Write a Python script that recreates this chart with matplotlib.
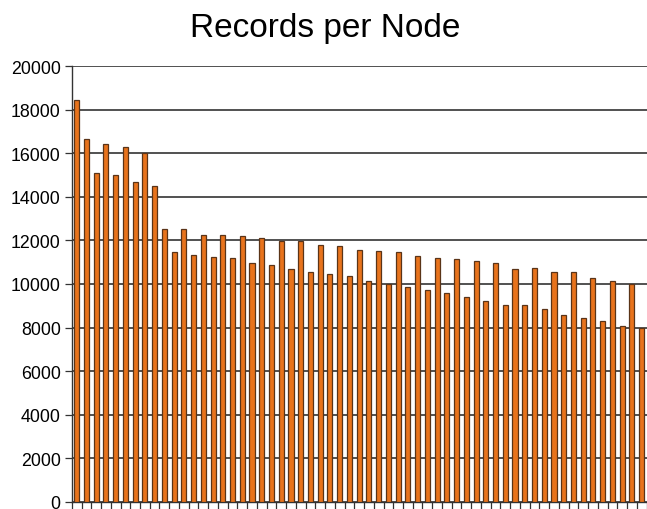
import matplotlib
matplotlib.use("Agg")
import matplotlib.pyplot as plt
import numpy as np

title = "Records per Node"
values = [18450, 16645, 15100, 16445, 15000, 16290, 14690, 16000, 14490,
          12510, 11490, 12510, 11335, 12250, 11230, 12250, 11170, 12205,
          10985, 12100, 10880, 11980, 10665, 11960, 10560, 11795, 10450,
          11730, 10345, 11580, 10145, 11530, 9980, 11475, 9870, 11270,
          9735, 11210, 9565, 11165, 9410, 11060, 9210, 10970, 9045,
          10695, 9045, 10755, 8830, 10540, 8570, 10540, 8420, 10285,
          8315, 10115, 8070, 9990, 7980]
yticks = [0, 2000, 4000, 6000, 8000, 10000, 12000, 14000, 16000, 18000, 20000]

plt.rcParams['font.family'] = ['Liberation Sans', 'DejaVu Sans']

fig = plt.figure(figsize=(6.47, 5.10), dpi=100)
ax = fig.add_axes([0.111, 0.0138, 0.889, 0.8548])

x = np.arange(len(values))
ax.bar(x, values, width=0.52, color='#E8731C', edgecolor='#5a3418', linewidth=0.9, zorder=3)

ax.set_ylim(0, 20000)
ax.set_xlim(-0.5, len(values) - 0.45)
ax.set_yticks(yticks)
ax.set_yticklabels([str(v) for v in yticks], fontsize=12.8)
ax.yaxis.grid(True, color='#222222', linewidth=1.1, zorder=0)
ax.set_axisbelow(True)

ax.set_xticks([])
ax.set_xticks(np.arange(-0.5, len(values), 1.0), minor=True)
ax.tick_params(axis='x', which='minor', length=5, width=0.9, color='#333333', direction='out')
ax.tick_params(axis='y', length=5, width=0.9, color='#333333', direction='out', pad=3)

for s in ['top', 'right']:
    ax.spines[s].set_visible(False)
ax.spines['left'].set_color('#333333')
ax.spines['bottom'].set_color('#333333')
ax.spines['left'].set_linewidth(1.0)
ax.spines['bottom'].set_linewidth(1.0)

fig.text(0.503, 0.945, title, ha='center', va='center', fontsize=24)

fig.savefig("out.png", dpi=100)
